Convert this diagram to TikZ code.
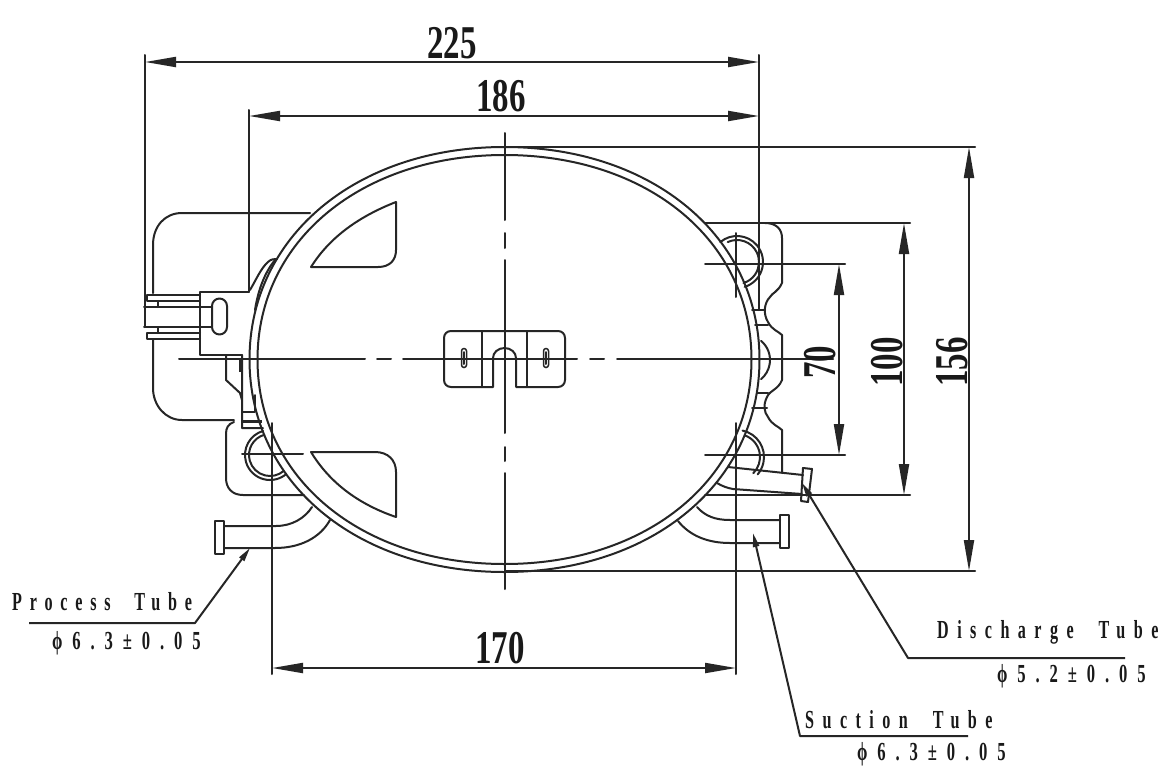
\documentclass[tikz,border=0pt]{standalone}
\usepackage{fontspec}
\usetikzlibrary{arrows.meta}
\newfontfamily\dimfont[FakeStretch=0.7]{Liberation Serif}
\newfontfamily\lblfont[FakeStretch=0.62,LetterSpace=32.5,WordSpace=2]{Liberation Serif}
\newfontfamily\lblpfont[FakeStretch=0.62,LetterSpace=30,WordSpace=2]{Liberation Serif}
\newfontfamily\numfont[FakeStretch=0.64,LetterSpace=38]{Liberation Serif}
\tikzset{
  ln/.style={line width=2pt,black!85,line cap=round,line join=round},
  dimline/.style={line width=2pt,black!85,{Stealth[length=31pt,width=10pt,inset=0pt]}-{Stealth[length=31pt,width=10pt,inset=0pt]}},
  leader/.style={line width=2pt,black!85,-{Stealth[length=14pt,width=6pt,inset=0pt]},line join=round},
  dimtext/.style={font=\dimfont\bfseries\fontsize{47}{47}\selectfont,inner sep=0pt,text=black!90},
  lbl/.style={font=\lblfont\bfseries\fontsize{26}{26}\selectfont,inner sep=0pt,anchor=west,text=black!90},
  lblp/.style={font=\lblpfont\bfseries\fontsize{26}{26}\selectfont,inner sep=0pt,anchor=west,text=black!90},
  num/.style={font=\numfont\bfseries\fontsize{26}{26}\selectfont,inner sep=0pt,anchor=west,text=black!90},
}
\begin{document}
\begin{tikzpicture}[x=1pt,y=-1pt]
\useasboundingbox (0,0) rectangle (1173,771);
\fill[white] (0,0) rectangle (1173,771);
% body
\draw[ln] (249.5,359.5) .. controls (249.5,236.5) and (356.5,147) .. (504.5,147) .. controls (652.5,147) and (759.5,236.5) .. (759.5,359.5) .. controls (759.5,482.5) and (652.5,572) .. (504.5,572) .. controls (356.5,572) and (249.5,482.5) .. (249.5,359.5) -- cycle;
\draw[ln] (257.5,359.5) .. controls (257.5,240.5) and (361.5,155) .. (504.5,155) .. controls (647.5,155) and (751.5,240.5) .. (751.5,359.5) .. controls (751.5,478.5) and (647.5,564) .. (504.5,564) .. controls (361.5,564) and (257.5,478.5) .. (257.5,359.5) -- cycle;
% windows
\draw[ln] (396,202) .. controls (355,218) and (328,240) .. (311,267) -- (378,267) .. controls (390,267) and (396,260) .. (396,250) -- cycle;
\draw[ln] (311,452) -- (375,452) .. controls (388,452) and (396,460) .. (396,472) -- (396,517) .. controls (355,503) and (328,480) .. (311,452) -- cycle;
% clamp
\draw[ln] (451,331) -- (558,331) .. controls (562,331) and (565,334) .. (565,338) -- (565,380) .. controls (565,384) and (562,387) .. (558,387) -- (516,387) -- (516,358) arc (0:-180:11.5 and 10) -- (493,387) -- (451,387) .. controls (447,387) and (444,384) .. (444,380) -- (444,338) .. controls (444,334) and (447,331) .. (451,331) -- cycle;
\draw[ln] (482,331) -- (482,387) (527,331) -- (527,387);
\draw[ln] (464,352) -- (464,364) (546,352) -- (546,364);
\draw[line width=1.5pt,black!85] (461.5,351) arc (180:360:2.5) -- (466.5,365) arc (0:180:2.5) -- cycle;
\draw[line width=1.5pt,black!85] (543.5,351) arc (180:360:2.5) -- (548.5,365) arc (0:180:2.5) -- cycle;
% left terminal cover
\draw[ln] (310,213) -- (182,213) .. controls (165,213) and (153,226) .. (153,245) -- (153,293);
\draw[ln] (153,340) -- (153,388) .. controls (153,405) and (165,420) .. (182,420) -- (234,420);
\draw[ln] (234,422) .. controls (228,424) and (226,428) .. (226,434) -- (226,478) .. controls (226,488) and (232,495) .. (243,495) -- (304,495);
% terminal block
\draw[ln] (249,292) -- (200,292) -- (200,355) -- (242,355);
\draw[ln] (212,306) arc (180:360:7.5) -- (227,327) arc (0:180:7.5) -- cycle;
\draw[ln] (144,307) -- (212,307) (144,327) -- (212,327);
\draw[ln] (200,295) -- (147,295) -- (147,301) -- (200,301);
\draw[ln] (200,333) -- (147,333) -- (147,339) -- (200,339);
\draw[ln] (158,301) -- (158,307) (158,327) -- (158,333);
\draw[ln] (226,355) -- (226,380) -- (240,393) -- (242,400) (242,355) -- (242,428) -- (263,428);
\draw[ln] (255,395) -- (255,412) -- (242,412);
\draw[line width=3pt,black!85] (242,421) -- (262,421);
\draw[line width=3pt,black!85] (240,360) -- (240,372);
\draw[ln] (250,290) .. controls (256,280) and (261,268) .. (268,262) .. controls (271,259) and (274,259) .. (277,259);
\draw[ln] (255,310) .. controls (258,290) and (265,272) .. (275,260);
% circles left
\draw[ln] (270,455) ++(254:25) arc (254:50:25);
\draw[ln] (270,455) ++(254:21) arc (254:50:21);
% circles right
\draw[ln] (737,262) ++(-130:26) arc (-130:73:26);
\draw[ln] (737,262) ++(-115:22) arc (-115:73:22);
\draw[ln] (745,360) ++(-50:25) arc (-50:50:25);
\draw[ln] (737,457) ++(-78:27) arc (-78:40:27);
\draw[ln] (737,457) ++(-70:23) arc (-70:45:23);
% right bracket
\draw[ln] (765,223) .. controls (776,223) and (782,229) .. (782,238) -- (782,283) .. controls (778,292) and (772,293) .. (770,297) .. controls (764,303) and (763,314) .. (768,322) .. controls (772,330) and (778,331) .. (782,335) -- (782,380) .. controls (778,390) and (770,390) .. (767,397) .. controls (763,405) and (764,412) .. (768,417) .. controls (772,425) and (778,426) .. (782,430) -- (782,473);
\draw[ln] (752,310) -- (765,310) (755,325) -- (768,325) (757,393) -- (768,393) (752,408) -- (767,408);
% left tube
\draw[ln] (215,521) rectangle (224,554);
\draw[ln] (224,526) -- (276,526) .. controls (292,526) and (305,518) .. (312,507);
\draw[ln] (224,548) -- (275,548) .. controls (300,548) and (320,538) .. (330,520);
% suction tube
\draw[ln] (780,515) rectangle (789,548);
\draw[ln] (780,520) -- (730,520) .. controls (715,520) and (705,516) .. (697,507);
\draw[ln] (780,543) -- (730,543) .. controls (708,543) and (690,536) .. (678,521);
% discharge tube
\draw[ln] (803,468) -- (812,469) -- (808,502) -- (801,501) -- cycle;
\draw[ln] (728,467) -- (803,475);
\draw[ln] (717,483) .. controls (722,486) and (727,488) .. (733,489) -- (802,494);
% centre lines
\draw[ln] (179,359) -- (365,359) (377,359) -- (391,359) (403,359) -- (577,359) (590,359) -- (604,359) (617,359) -- (833,359);
\draw[ln] (505,133) -- (505,220) (505,233) -- (505,248) (505,260) -- (505,433) (505,447) -- (505,461) (505,473) -- (505,589);
\draw[ln] (242,454) -- (303,454);
% dimension ext
\coordinate (a1) at (145,62); \coordinate (a2) at (759,62);
\coordinate (b1) at (249,116); \coordinate (b2) at (759,116);
\coordinate (c1) at (969,147); \coordinate (c2) at (969,571);
\coordinate (d1) at (904,223); \coordinate (d2) at (904,495);
\coordinate (e1) at (839,264); \coordinate (e2) at (839,455);
\coordinate (f1) at (272,668); \coordinate (f2) at (736,668);
\draw[ln] (145,55) -- (145,327) (759,55) -- (759,310) (249,110) -- (249,292);
\draw[ln] (505,147) -- (975,147) (505,571) -- (975,571);
\draw[ln] (705,223) -- (910,223) (705,495) -- (910,495);
\draw[ln] (705,264) -- (845,264) (705,455) -- (845,455);
\draw[ln] (272,423) -- (272,674) (736,423) -- (736,674) (736,233) -- (736,297);
\draw[dimline] (a1) -- (a2);
\draw[dimline] (b1) -- (b2);
\draw[dimline] (c1) -- (c2);
\draw[dimline] (d1) -- (d2);
\draw[dimline] (e1) -- (e2);
\draw[dimline] (f1) -- (f2);
\node[dimtext] (t225) at (452,43) {225};
\node[dimtext] (t186) at (501,96) {186};
\node[dimtext] (t170) at (500,648) {170};
\node[dimtext,rotate=90] (t70) at (820,362) {70};
\node[dimtext,rotate=90] (t100) at (887,362) {100};
\node[dimtext,rotate=90] (t156) at (952,362) {156};
% leaders
\coordinate (p0) at (29,623); \coordinate (p1) at (195,623); \coordinate (p2) at (250,548);
\draw[leader] (p0) -- (p1) -- (p2);
\coordinate (q0) at (1125,658); \coordinate (q1) at (908,658); \coordinate (q2) at (802,483);
\draw[leader] (q0) -- (q1) -- (q2);
\coordinate (r0) at (968,736); \coordinate (r1) at (800,736); \coordinate (r2) at (753,533);
\draw[leader] (r0) -- (r1) -- (r2);
\node[lblp] (l1) at (12,602) {Process Tube};
\node[num] (l2) at (52,643) {ϕ6.3±0.05};
\node[lbl] (l3) at (937,632) {Discharge Tube};
\node[num] (l4) at (997,676) {ϕ5.2±0.05};
\node[lbl] (l5) at (805,720) {Suction Tube};
\node[num] (l6) at (857,754) {ϕ6.3±0.05};
\end{tikzpicture}
\end{document}
